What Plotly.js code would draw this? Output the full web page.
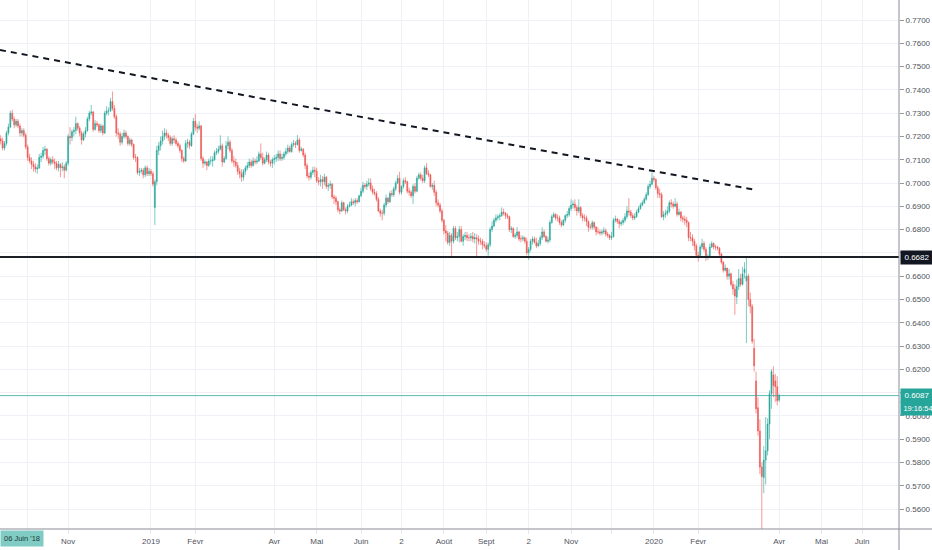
<!DOCTYPE html>
<html>
<head>
<meta charset="utf-8">
<script src="https://cdn.plot.ly/plotly-3.0.1.min.js"></script>
<style>
  html, body { margin: 0; padding: 0; background: #ffffff; }
  #chart { width: 932px; height: 550px; }
</style>
</head>
<body>
<div id="chart"></div>
<script>
// ---- Data (daily candles, first trading day 2018-09-12, weekdays only) ----
const firstDay = '2018-09-12';

const openP = [
  // Sep 2018
  0.7165,0.7190,0.7180,0.7150,0.7170,0.7215,0.7240,0.7300,0.7275,0.7250,0.7265,0.7245,0.7215,
  // Oct 2018
  0.7225,0.7205,0.7155,0.7110,0.7095,0.7080,0.7070,0.7060,0.7065,0.7110,0.7115,0.7140,0.7145,0.7105,0.7085,0.7100,0.7090,0.7085,0.7065,0.7080,0.7065,0.7070,0.7055,
  // Nov 2018
  0.7085,0.7200,0.7195,0.7220,0.7225,0.7255,0.7235,0.7215,0.7185,0.7210,0.7225,0.7275,0.7300,0.7305,0.7230,0.7255,0.7250,0.7225,0.7245,0.7215,0.7300,0.7310,
  // Dec 2018
  0.7310,0.7350,0.7320,0.7285,0.7215,0.7210,0.7175,0.7200,0.7215,0.7200,0.7170,0.7185,0.7165,0.7110,0.7110,0.7045,0.7050,0.7055,0.7035,0.7065,0.7040,
  // Jan 2019
  0.7050,0.7040,0.6895,0.7005,0.7140,0.7160,0.7180,0.7200,0.7215,0.7205,0.7195,0.7170,0.7190,0.7185,0.7170,0.7160,0.7140,0.7105,0.7095,0.7170,0.7175,0.7160,0.7210,
  // Feb 2019
  0.7265,0.7240,0.7235,0.7245,0.7105,0.7085,0.7090,0.7075,0.7095,0.7095,0.7100,0.7130,0.7135,0.7145,0.7160,0.7090,0.7105,0.7160,0.7175,0.7140,
  // Mar 2019
  0.7095,0.7090,0.7075,0.7050,0.7040,0.7025,0.7050,0.7065,0.7075,0.7090,0.7075,0.7095,0.7090,0.7095,0.7125,0.7110,0.7085,0.7100,0.7120,0.7090,0.7085,
  // Apr 2019
  0.7100,0.7105,0.7110,0.7125,0.7105,0.7110,0.7125,0.7135,0.7150,0.7135,0.7165,0.7170,0.7165,0.7185,0.7140,0.7145,0.7120,0.7075,0.7030,0.7025,0.7045,0.7055,
  // May 2019
  0.7050,0.7010,0.7005,0.7015,0.7005,0.7025,0.6985,0.6990,0.6995,0.6940,0.6935,0.6920,0.6885,0.6880,0.6915,0.6885,0.6880,0.6900,0.6905,0.6920,0.6915,0.6925,0.6920,
  // Jun 2019
  0.6945,0.6965,0.6990,0.6985,0.6995,0.7000,0.6975,0.6960,0.6955,0.6930,0.6880,0.6870,0.6870,0.6905,0.6935,0.6920,0.6955,0.6950,0.6975,0.7000,
  // Jul 2019
  0.7020,0.6960,0.6985,0.7010,0.7005,0.6965,0.6960,0.6945,0.6985,0.6965,0.7020,0.7035,0.7020,0.7010,0.7065,0.7040,0.7035,0.6985,0.6990,0.6960,0.6915,0.6905,0.6880,
  // Aug 2019
  0.6840,0.6795,0.6785,0.6745,0.6775,0.6750,0.6805,0.6765,0.6770,0.6800,0.6750,0.6770,0.6775,0.6765,0.6765,0.6770,0.6760,0.6765,0.6760,0.6750,0.6750,0.6735,
  // Sep 2019
  0.6730,0.6715,0.6735,0.6800,0.6815,0.6840,0.6850,0.6855,0.6860,0.6875,0.6870,0.6860,0.6855,0.6800,0.6805,0.6770,0.6775,0.6790,0.6760,0.6760,0.6765,
  // Oct 2019
  0.6750,0.6700,0.6715,0.6750,0.6760,0.6745,0.6730,0.6740,0.6765,0.6790,0.6770,0.6750,0.6755,0.6830,0.6855,0.6865,0.6850,0.6850,0.6830,0.6820,0.6840,0.6860,0.6865,
  // Nov 2019
  0.6890,0.6905,0.6910,0.6895,0.6880,0.6895,0.6860,0.6850,0.6850,0.6835,0.6810,0.6810,0.6830,0.6810,0.6790,0.6790,0.6785,0.6790,0.6795,0.6780,0.6775,
  // Dec 2019
  0.6765,0.6770,0.6840,0.6845,0.6835,0.6825,0.6830,0.6840,0.6855,0.6880,0.6875,0.6860,0.6850,0.6855,0.6875,0.6890,0.6905,0.6915,0.6930,0.6950,0.6985,0.6995,
  // Jan 2020
  0.7020,0.7015,0.6980,0.6955,0.6950,0.6855,0.6865,0.6870,0.6880,0.6915,0.6910,0.6900,0.6910,0.6865,0.6875,0.6850,0.6845,0.6840,0.6830,0.6765,0.6765,0.6750,0.6730,
  // Feb 2020
  0.6690,0.6685,0.6725,0.6740,0.6715,0.6680,0.6685,0.6725,0.6740,0.6725,0.6725,0.6720,0.6695,0.6660,0.6625,0.6635,0.6600,0.6610,0.6565,0.6545,
  // Mar 2020
  0.6510,0.6555,0.6590,0.6565,0.6615,0.6580,0.6600,0.6500,0.6470,0.6290,0.6150,0.6035,0.5935,0.5780,0.5735,0.5810,0.5850,0.5965,0.6095,0.6175,0.6150,0.6125,
  // Apr 2020
  0.6068
];

const highP = [
  0.7200,0.7205,0.7195,0.7180,0.7225,0.7255,0.7310,0.7315,0.7285,0.7275,0.7275,0.7255,0.7235,
  0.7235,0.7215,0.7165,0.7125,0.7110,0.7095,0.7085,0.7080,0.7125,0.7130,0.7155,0.7160,0.7150,0.7115,0.7110,0.7115,0.7105,0.7095,0.7095,0.7085,0.7090,0.7080,0.7095,
  0.7210,0.7240,0.7230,0.7240,0.7285,0.7260,0.7245,0.7225,0.7220,0.7240,0.7285,0.7310,0.7335,0.7310,0.7270,0.7265,0.7255,0.7255,0.7250,0.7310,0.7330,0.7325,
  0.7365,0.7393,0.7335,0.7295,0.7235,0.7220,0.7215,0.7230,0.7225,0.7205,0.7195,0.7190,0.7170,0.7125,0.7115,0.7065,0.7065,0.7065,0.7075,0.7075,0.7065,
  0.7060,0.7050,0.7015,0.7160,0.7175,0.7200,0.7225,0.7235,0.7230,0.7215,0.7205,0.7200,0.7205,0.7195,0.7180,0.7170,0.7145,0.7115,0.7185,0.7190,0.7185,0.7220,0.7280,
  0.7296,0.7255,0.7265,0.7250,0.7115,0.7100,0.7095,0.7105,0.7115,0.7115,0.7140,0.7150,0.7160,0.7205,0.7170,0.7115,0.7180,0.7200,0.7185,0.7150,
  0.7115,0.7105,0.7090,0.7065,0.7060,0.7060,0.7075,0.7090,0.7105,0.7100,0.7110,0.7105,0.7115,0.7135,0.7170,0.7130,0.7110,0.7135,0.7130,0.7100,0.7110,
  0.7120,0.7125,0.7140,0.7140,0.7125,0.7135,0.7150,0.7165,0.7160,0.7175,0.7185,0.7180,0.7206,0.7195,0.7155,0.7150,0.7130,0.7085,0.7045,0.7055,0.7070,0.7070,
  0.7065,0.7025,0.7035,0.7030,0.7040,0.7030,0.7000,0.7010,0.7000,0.6950,0.6945,0.6925,0.6895,0.6925,0.6920,0.6895,0.6910,0.6920,0.6935,0.6930,0.6935,0.6935,0.6950,
  0.6980,0.7005,0.7000,0.7010,0.7020,0.7020,0.6990,0.6975,0.6965,0.6940,0.6890,0.6885,0.6915,0.6950,0.6940,0.6965,0.6970,0.6985,0.7010,0.7035,
  0.7048,0.6990,0.7020,0.7025,0.7010,0.6980,0.6970,0.6995,0.7000,0.7030,0.7045,0.7045,0.7035,0.7075,0.7085,0.7055,0.7040,0.7000,0.7010,0.6970,0.6930,0.6915,0.6890,
  0.6845,0.6820,0.6795,0.6790,0.6785,0.6815,0.6815,0.6790,0.6815,0.6815,0.6780,0.6790,0.6790,0.6780,0.6785,0.6790,0.6785,0.6780,0.6775,0.6765,0.6760,0.6750,
  0.6745,0.6745,0.6810,0.6835,0.6850,0.6865,0.6865,0.6870,0.6895,0.6890,0.6875,0.6870,0.6860,0.6815,0.6810,0.6785,0.6810,0.6795,0.6775,0.6775,0.6770,
  0.6765,0.6725,0.6760,0.6770,0.6770,0.6765,0.6755,0.6775,0.6810,0.6800,0.6775,0.6770,0.6840,0.6865,0.6875,0.6870,0.6865,0.6860,0.6840,0.6845,0.6865,0.6880,0.6900,
  0.6930,0.6925,0.6930,0.6905,0.6930,0.6900,0.6870,0.6865,0.6860,0.6840,0.6825,0.6840,0.6835,0.6815,0.6810,0.6800,0.6800,0.6810,0.6805,0.6790,0.6780,
  0.6790,0.6850,0.6860,0.6850,0.6845,0.6840,0.6850,0.6870,0.6900,0.6935,0.6885,0.6870,0.6870,0.6885,0.6900,0.6915,0.6925,0.6940,0.6960,0.6995,0.7010,0.7045,
  0.7030,0.7020,0.6990,0.6975,0.6960,0.6880,0.6885,0.6900,0.6925,0.6930,0.6920,0.6935,0.6920,0.6890,0.6880,0.6860,0.6860,0.6855,0.6835,0.6790,0.6780,0.6760,0.6740,
  0.6705,0.6735,0.6760,0.6750,0.6725,0.6695,0.6740,0.6750,0.6745,0.6735,0.6730,0.6725,0.6700,0.6665,0.6650,0.6615,0.6630,0.6615,0.6580,0.6565,
  0.6585,0.6630,0.6610,0.6640,0.6660,0.6685,0.6610,0.6530,0.6480,0.6330,0.6190,0.6080,0.5985,0.5800,0.5870,0.5995,0.5990,0.6110,0.6200,0.6213,0.6180,0.6170,
  0.6095
];

const lowP = [
  0.7150,0.7165,0.7140,0.7140,0.7160,0.7205,0.7235,0.7265,0.7235,0.7240,0.7235,0.7200,0.7200,
  0.7195,0.7145,0.7095,0.7085,0.7060,0.7050,0.7045,0.7040,0.7060,0.7090,0.7105,0.7120,0.7095,0.7075,0.7075,0.7080,0.7060,0.7055,0.7050,0.7025,0.7050,0.7020,0.7050,
  0.7075,0.7165,0.7180,0.7200,0.7210,0.7225,0.7200,0.7165,0.7180,0.7195,0.7220,0.7265,0.7290,0.7220,0.7225,0.7240,0.7215,0.7215,0.7205,0.7210,0.7290,0.7290,
  0.7305,0.7310,0.7275,0.7200,0.7190,0.7160,0.7165,0.7190,0.7190,0.7160,0.7160,0.7155,0.7100,0.7090,0.7035,0.7030,0.7040,0.7020,0.7025,0.7030,0.7030,
  0.7030,0.6985,0.6820,0.6990,0.7120,0.7140,0.7165,0.7185,0.7190,0.7180,0.7160,0.7160,0.7170,0.7160,0.7150,0.7130,0.7090,0.7085,0.7090,0.7150,0.7145,0.7155,0.7205,
  0.7225,0.7215,0.7225,0.7095,0.7065,0.7075,0.7055,0.7070,0.7080,0.7070,0.7095,0.7120,0.7125,0.7140,0.7070,0.7085,0.7100,0.7145,0.7130,0.7085,
  0.7070,0.7065,0.7035,0.7020,0.7005,0.7010,0.7035,0.7055,0.7065,0.7065,0.7070,0.7080,0.7080,0.7090,0.7100,0.7075,0.7080,0.7090,0.7080,0.7070,0.7065,
  0.7080,0.7090,0.7095,0.7095,0.7095,0.7100,0.7115,0.7125,0.7130,0.7130,0.7155,0.7150,0.7160,0.7130,0.7135,0.7110,0.7060,0.7020,0.7010,0.7015,0.7035,0.7025,
  0.7000,0.6990,0.6985,0.6975,0.6990,0.6975,0.6965,0.6975,0.6930,0.6910,0.6905,0.6875,0.6865,0.6875,0.6880,0.6865,0.6870,0.6895,0.6900,0.6905,0.6900,0.6910,0.6915,
  0.6940,0.6955,0.6975,0.6970,0.6985,0.6965,0.6950,0.6945,0.6920,0.6875,0.6855,0.6840,0.6860,0.6895,0.6910,0.6915,0.6940,0.6940,0.6965,0.6995,
  0.6950,0.6950,0.6975,0.6995,0.6955,0.6945,0.6935,0.6910,0.6955,0.6960,0.7015,0.7010,0.7000,0.7000,0.7035,0.7025,0.6980,0.6970,0.6945,0.6900,0.6895,0.6870,0.6830,
  0.6780,0.6750,0.6735,0.6730,0.6678,0.6740,0.6755,0.6750,0.6745,0.6745,0.6730,0.6755,0.6750,0.6750,0.6750,0.6745,0.6740,0.6680,0.6735,0.6735,0.6715,0.6720,
  0.6705,0.6688,0.6725,0.6790,0.6810,0.6830,0.6840,0.6840,0.6855,0.6860,0.6845,0.6845,0.6790,0.6785,0.6765,0.6760,0.6765,0.6750,0.6745,0.6750,0.6740,
  0.6690,0.6670,0.6705,0.6735,0.6740,0.6720,0.6725,0.6730,0.6755,0.6765,0.6745,0.6740,0.6745,0.6825,0.6850,0.6840,0.6835,0.6820,0.6810,0.6815,0.6830,0.6850,0.6855,
  0.6880,0.6890,0.6880,0.6860,0.6870,0.6850,0.6835,0.6835,0.6815,0.6790,0.6800,0.6800,0.6800,0.6775,0.6780,0.6775,0.6775,0.6780,0.6770,0.6765,0.6755,
  0.6755,0.6765,0.6830,0.6825,0.6805,0.6815,0.6820,0.6830,0.6845,0.6860,0.6850,0.6840,0.6840,0.6850,0.6870,0.6885,0.6900,0.6910,0.6925,0.6945,0.6975,0.6990,
  0.7005,0.6970,0.6935,0.6935,0.6850,0.6840,0.6850,0.6860,0.6870,0.6895,0.6890,0.6895,0.6855,0.6860,0.6835,0.6830,0.6820,0.6810,0.6750,0.6750,0.6730,0.6710,0.6680,
  0.6662,0.6680,0.6715,0.6705,0.6665,0.6670,0.6680,0.6720,0.6715,0.6710,0.6710,0.6680,0.6650,0.6615,0.6620,0.6585,0.6585,0.6555,0.6520,0.6434,
  0.6480,0.6540,0.6555,0.6560,0.6590,0.6313,0.6470,0.6440,0.6310,0.6190,0.6010,0.5915,0.5750,0.5506,0.5668,0.5705,0.5830,0.5900,0.6030,0.6080,0.6060,0.6045,
  0.6060
];

const closeP = [
  0.7190,0.7180,0.7150,0.7170,0.7215,0.7240,0.7300,0.7275,0.7250,0.7265,0.7245,0.7215,0.7225,
  0.7205,0.7155,0.7110,0.7095,0.7080,0.7070,0.7060,0.7065,0.7110,0.7115,0.7140,0.7145,0.7105,0.7085,0.7100,0.7090,0.7085,0.7065,0.7080,0.7065,0.7070,0.7055,0.7085,
  0.7200,0.7195,0.7220,0.7225,0.7255,0.7235,0.7215,0.7185,0.7210,0.7225,0.7275,0.7300,0.7305,0.7230,0.7255,0.7250,0.7225,0.7245,0.7215,0.7300,0.7310,0.7310,
  0.7350,0.7320,0.7285,0.7215,0.7210,0.7175,0.7200,0.7215,0.7200,0.7170,0.7185,0.7165,0.7110,0.7110,0.7045,0.7050,0.7055,0.7035,0.7065,0.7040,0.7050,
  0.7040,0.6995,0.7005,0.7140,0.7160,0.7180,0.7200,0.7215,0.7205,0.7195,0.7170,0.7190,0.7185,0.7170,0.7160,0.7140,0.7105,0.7095,0.7170,0.7175,0.7160,0.7210,0.7265,
  0.7240,0.7235,0.7245,0.7105,0.7085,0.7090,0.7075,0.7095,0.7095,0.7100,0.7130,0.7135,0.7145,0.7160,0.7090,0.7105,0.7160,0.7175,0.7140,0.7095,
  0.7090,0.7075,0.7050,0.7040,0.7025,0.7050,0.7065,0.7075,0.7090,0.7075,0.7095,0.7090,0.7095,0.7125,0.7110,0.7085,0.7100,0.7120,0.7090,0.7085,0.7100,
  0.7105,0.7110,0.7125,0.7105,0.7110,0.7125,0.7135,0.7150,0.7135,0.7165,0.7170,0.7165,0.7185,0.7140,0.7145,0.7120,0.7075,0.7030,0.7025,0.7045,0.7055,0.7050,
  0.7010,0.7005,0.7015,0.7005,0.7025,0.6985,0.6990,0.6995,0.6940,0.6935,0.6920,0.6885,0.6880,0.6915,0.6885,0.6880,0.6900,0.6905,0.6920,0.6915,0.6925,0.6920,0.6945,
  0.6965,0.6990,0.6985,0.6995,0.7000,0.6975,0.6960,0.6955,0.6930,0.6880,0.6870,0.6870,0.6905,0.6935,0.6920,0.6955,0.6950,0.6975,0.7000,0.7020,
  0.6960,0.6985,0.7010,0.7005,0.6965,0.6960,0.6945,0.6985,0.6965,0.7020,0.7035,0.7020,0.7010,0.7065,0.7040,0.7035,0.6985,0.6990,0.6960,0.6915,0.6905,0.6880,0.6840,
  0.6795,0.6785,0.6745,0.6775,0.6750,0.6805,0.6765,0.6770,0.6800,0.6750,0.6770,0.6775,0.6765,0.6765,0.6770,0.6760,0.6765,0.6760,0.6750,0.6750,0.6735,0.6730,
  0.6715,0.6735,0.6800,0.6815,0.6840,0.6850,0.6855,0.6860,0.6875,0.6870,0.6860,0.6855,0.6800,0.6805,0.6770,0.6775,0.6790,0.6760,0.6760,0.6765,0.6750,
  0.6700,0.6715,0.6750,0.6760,0.6745,0.6730,0.6740,0.6765,0.6790,0.6770,0.6750,0.6755,0.6830,0.6855,0.6865,0.6850,0.6850,0.6830,0.6820,0.6840,0.6860,0.6865,0.6890,
  0.6905,0.6910,0.6895,0.6880,0.6895,0.6860,0.6850,0.6850,0.6835,0.6810,0.6810,0.6830,0.6810,0.6790,0.6790,0.6785,0.6790,0.6795,0.6780,0.6775,0.6765,
  0.6770,0.6840,0.6845,0.6835,0.6825,0.6830,0.6840,0.6855,0.6880,0.6875,0.6860,0.6850,0.6855,0.6875,0.6890,0.6905,0.6915,0.6930,0.6950,0.6985,0.6995,0.7020,
  0.7015,0.6980,0.6955,0.6950,0.6855,0.6865,0.6870,0.6880,0.6915,0.6910,0.6900,0.6910,0.6865,0.6875,0.6850,0.6845,0.6840,0.6830,0.6765,0.6765,0.6750,0.6730,0.6690,
  0.6685,0.6725,0.6740,0.6715,0.6680,0.6685,0.6725,0.6740,0.6725,0.6725,0.6720,0.6695,0.6660,0.6625,0.6635,0.6600,0.6610,0.6565,0.6545,0.6515,
  0.6555,0.6590,0.6565,0.6610,0.6630,0.6600,0.6500,0.6470,0.6320,0.6215,0.6030,0.5935,0.5780,0.5740,0.5810,0.5850,0.5965,0.6095,0.6190,0.6130,0.6125,0.6065,
  0.6087
];

// x-axis tick positions and labels
const tickDates = ['2018-10-03','2018-11-01','2019-01-01','2019-02-01','2019-04-01','2019-05-01','2019-06-03','2019-07-02','2019-08-01','2019-09-02','2019-10-02','2019-11-01','2019-12-02','2020-01-01','2020-02-03','2020-04-01','2020-05-01','2020-06-01'];
const tickLabels = ['','Nov','2019','Févr','Avr','Mai','Juin','2','Août','Sept','2','Nov','','2020','Févr','Avr','Mai','Juin'];
// price scale: every 0.01 gets a grid line; labels hidden where a price tag sits
const priceTicks = [0.56,0.57,0.58,0.59,0.60,0.61,0.62,0.63,0.64,0.65,0.66,0.67,0.68,0.69,0.70,0.71,0.72,0.73,0.74,0.75,0.76,0.77];
const priceLabels = ['0.5600','0.5700','0.5800','0.5900','0.6000','','0.6200','0.6300','0.6400','0.6500','0.6600','','0.6800','0.6900','0.7000','0.7100','0.7200','0.7300','0.7400','0.7500','0.7600','0.7700'];

// levels drawn on the chart
const supportLevel = 0.6682;
const lastPrice = 0.6087;
const countdown = '19:16:54';
const cursorDate = "06 Juin '18";
const trendStart = {date: '2018-09-12 15:32', price: 0.7571};
const trendEnd = {date: '2020-03-16 12:00', price: 0.6969};

// ---- build trading-day dates (weekdays) ----
function tradingDays(start, n) {
  const out = [];
  const d = new Date(start + 'T00:00:00Z');
  while (out.length < n) {
    const wd = d.getUTCDay();
    if (wd !== 0 && wd !== 6) out.push(d.toISOString().slice(0, 10));
    d.setUTCDate(d.getUTCDate() + 1);
  }
  return out;
}
const dates = tradingDays(firstDay, closeP.length);

const UP = '#26a69a', DOWN = '#ef5350';
const fontFam = 'Liberation Sans, Arial, sans-serif';

const trace = {
  type: 'candlestick',
  x: dates, open: openP, high: highP, low: lowP, close: closeP,
  increasing: {line: {color: 'rgba(38,166,154,0.6)', width: 1}, fillcolor: UP},
  decreasing: {line: {color: 'rgba(239,83,80,0.6)', width: 1}, fillcolor: DOWN},
  whiskerwidth: 0,
  hoverinfo: 'skip',
  showlegend: false
};

const tagFont = {family: fontFam, size: 8, color: '#ffffff'};

const layout = {
  width: 932, height: 550,
  margin: {l: 0, r: 33, t: 0, b: 21, pad: 0},
  paper_bgcolor: '#ffffff', plot_bgcolor: '#ffffff',
  font: {family: fontFam, size: 8, color: '#50535e'},
  showlegend: false,
  xaxis: {
    type: 'date',
    rangebreaks: [{bounds: ['sat', 'mon']}],
    range: ['2018-09-12 15:32', '2020-06-26 04:30'],
    rangeslider: {visible: false},
    tickmode: 'array', tickvals: tickDates, ticktext: tickLabels,
    showgrid: true, gridcolor: '#eef1f6', gridwidth: 1,
    ticks: 'outside', ticklen: 4, tickcolor: '#e3e6ec',
    tickfont: {family: fontFam, size: 8, color: '#50535e'},
    showline: false, zeroline: false, fixedrange: true
  },
  yaxis: {
    side: 'right',
    range: [0.551411, 0.778589],
    tickmode: 'array', tickvals: priceTicks, ticktext: priceLabels,
    showgrid: true, gridcolor: '#eef1f6', gridwidth: 1,
    ticks: 'outside', ticklen: 4, tickcolor: '#9598a1',
    tickfont: {family: fontFam, size: 8, color: '#50535e'},
    showline: false, zeroline: false, fixedrange: true
  },
  shapes: [
    {type: 'line', xref: 'x', yref: 'y',
     x0: trendStart.date, y0: trendStart.price, x1: trendEnd.date, y1: trendEnd.price,
     line: {color: '#131722', width: 2, dash: '6px,5px'}},
    {type: 'line', xref: 'paper', yref: 'y', x0: 0, x1: 1, y0: supportLevel, y1: supportLevel,
     line: {color: '#1c1f26', width: 2}},
    {type: 'line', xref: 'paper', yref: 'y', x0: 0, x1: 1, y0: lastPrice, y1: lastPrice,
     line: {color: 'rgba(38,166,154,0.75)', width: 1}},
    {type: 'line', xref: 'paper', yref: 'paper', x0: 1, x1: 1, y0: -0.05, y1: 1,
     line: {color: '#8a8d96', width: 1}},
    {type: 'line', xref: 'paper', yref: 'paper', x0: 0, x1: 1.04, y0: 0, y1: 0,
     line: {color: '#8a8d96', width: 1}}
  ],
  annotations: [
    {xref: 'paper', yref: 'y', x: 1, y: supportLevel, xanchor: 'left', yanchor: 'middle',
     text: supportLevel.toFixed(4), showarrow: false, bgcolor: '#131722',
     font: tagFont, borderpad: 2, xshift: 1, width: 28},
    {xref: 'paper', yref: 'y', x: 1, y: lastPrice, xanchor: 'left', yanchor: 'middle',
     text: lastPrice.toFixed(4), showarrow: false, bgcolor: UP,
     font: tagFont, borderpad: 2, xshift: 1, width: 28},
    {xref: 'paper', yref: 'y', x: 1, y: lastPrice, xanchor: 'left', yanchor: 'middle',
     text: countdown, showarrow: false, bgcolor: UP, yshift: -13,
     font: {family: fontFam, size: 7.5, color: '#ffffff'}, borderpad: 2, xshift: 1, width: 30},
    {xref: 'paper', yref: 'paper', x: 0, y: 0, xanchor: 'left', yanchor: 'top',
     text: cursorDate, showarrow: false, bgcolor: '#80cbc4', yshift: -1,
     font: {family: fontFam, size: 7.5, color: '#1d3b3a'}, borderpad: 3}
  ]
};

Plotly.newPlot('chart', [trace], layout, {displayModeBar: false, staticPlot: true});
</script>
</body>
</html>
